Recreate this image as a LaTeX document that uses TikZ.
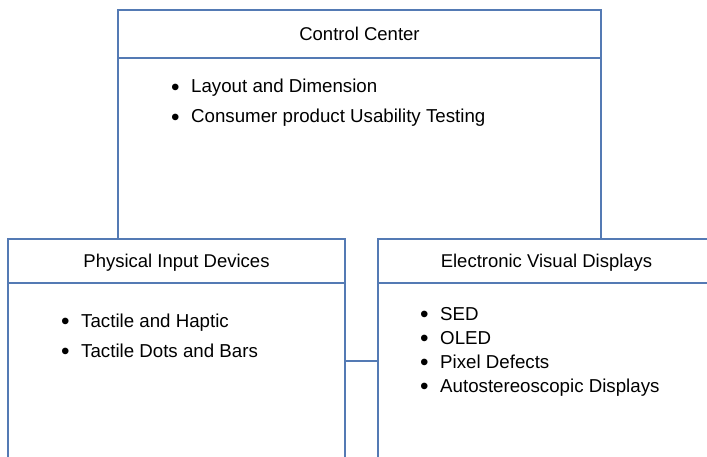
\documentclass[tikz,border=0pt]{standalone}
\usepackage{fontspec}
\setmainfont{Liberation Sans}
\usetikzlibrary{calc}
\definecolor{frameblue}{RGB}{84,122,180}
\newcommand{\bitem}[1]{\makebox[20pt][l]{\raisebox{-2.4pt}{\scalebox{1.3}{\textbullet}}}#1}
\begin{document}
\begin{tikzpicture}[x=1pt,y=-1pt,
  panel/.style={draw=frameblue,line width=1.8pt,fill=white,inner sep=0pt,outer sep=0pt,
    anchor=north west,minimum width=#1},
  title/.style={anchor=base,inner sep=0pt,font=\fontsize{18.5}{24}\selectfont},
  itemlist/.style={anchor=base west,inner sep=0pt,align=left},
  link/.style={draw=frameblue,line width=1.8pt}]
\useasboundingbox (0,0) rectangle (707,457);
\clip (0,0) rectangle (707,457);

% upper panel
\node[panel=483pt,minimum height=351pt] (ctrl) at (118,10) {};
\draw[link] ($(ctrl.north west)+(0,48)$) -- ($(ctrl.north east)+(0,48)$);
\node[title] (ctrlT) at (359.5,41) {Control Center};
\node[itemlist] (ctrlL) at (171,93) {\fontsize{18.7}{30}\selectfont
  \begin{tabular}[t]{@{}l@{}}
  \bitem{Layout and Dimension}\\
  \bitem{Consumer product Usability Testing}
  \end{tabular}};

% lower panels
\node[panel=337pt,minimum height=244pt] (phys) at (8,239) {};
\draw[link] ($(phys.north west)+(0,44)$) -- ($(phys.north east)+(0,44)$);
\node[title] (physT) at (176.5,268) {Physical Input Devices};
\node[itemlist] (physL) at (61,327) {\fontsize{18.7}{30}\selectfont
  \begin{tabular}[t]{@{}l@{}}
  \bitem{Tactile and Haptic}\\
  \bitem{Tactile Dots and Bars}
  \end{tabular}};

\node[panel=337pt,minimum height=244pt] (elec) at (378,239) {};
\draw[link] ($(elec.north west)+(0,44)$) -- ($(elec.north east)+(0,44)$);
\node[title] (elecT) at (546.5,268) {Electronic Visual Displays};
\node[itemlist] (elecL) at (420,320) {\fontsize{18.7}{24}\selectfont
  \begin{tabular}[t]{@{}l@{}}
  \bitem{SED}\\
  \bitem{OLED}\\
  \bitem{Pixel Defects}\\
  \bitem{Autostereoscopic Displays}
  \end{tabular}};

% link between the lower panels
\draw[link] (phys.east) -- (elec.west);
\end{tikzpicture}
\end{document}
